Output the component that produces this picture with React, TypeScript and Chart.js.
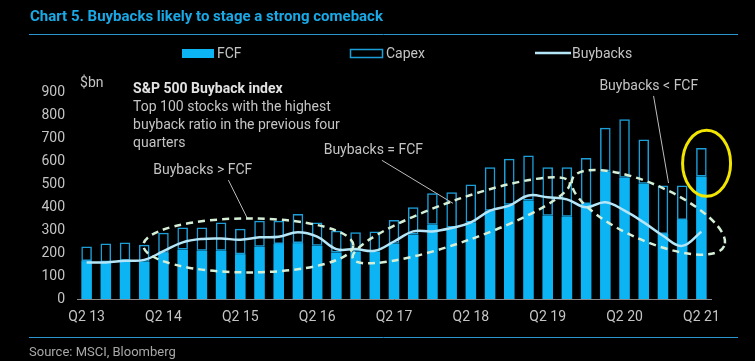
import React, { useEffect, useRef } from "react";
import { Chart, registerables } from "chart.js";

Chart.register(...registerables);

const quarters = [
  "Q2 13", "Q3 13", "Q4 13", "Q1 14",
  "Q2 14", "Q3 14", "Q4 14", "Q1 15",
  "Q2 15", "Q3 15", "Q4 15", "Q1 16",
  "Q2 16", "Q3 16", "Q4 16", "Q1 17",
  "Q2 17", "Q3 17", "Q4 17", "Q1 18",
  "Q2 18", "Q3 18", "Q4 18", "Q1 19",
  "Q2 19", "Q3 19", "Q4 19", "Q1 20",
  "Q2 20", "Q3 20", "Q4 20", "Q1 21",
  "Q2 21",
];

const fcf = [
  165, 160, 166, 162, 200, 215, 210, 210, 195, 227, 239, 243, 231, 202, 205, 205,
  240, 280, 323, 311, 333, 384, 410, 428, 362, 358, 413, 555, 527, 501, 283, 344,
  533,
];

const capex = [
  63, 81, 80, 74, 88, 96, 101, 123, 110, 113, 101, 127, 102, 95, 85, 89,
  104, 119, 137, 153, 165, 189, 200, 196, 211, 215, 200, 190, 255, 193, 210, 149,
  123,
];

const buybacks = [
  159, 159, 166, 170, 208, 246, 261, 263, 258, 268, 271, 290, 271, 217, 217, 210,
  250, 294, 294, 309, 333, 384, 406, 450, 442, 433, 399, 421, 384, 333, 275, 231,
  292,
];

const yMin = 0;
const yMax = 900;
const yStep = 100;

const titleText = "Chart 5. Buybacks likely to stage a strong comeback";
const sourceText = "Source: MSCI, Bloomberg";
const unitText = "$bn";

// annotation texts placed in data coordinates (category index, value)
const notes = [
  { text: "S&P 500 Buyback index", x: 2.42, y: 913, bold: true },
  { text: "Top 100 stocks with the highest", x: 2.42, y: 834, bold: false },
  { text: "buyback ratio in the previous four", x: 2.42, y: 756, bold: false },
  { text: "quarters", x: 2.42, y: 678, bold: false },
  { text: "Buybacks > FCF", x: 3.47, y: 560, bold: false },
  { text: "Buybacks = FCF", x: 12.34, y: 647, bold: false },
  { text: "Buybacks < FCF", x: 26.69, y: 926, bold: false },
];

const leaders = [
  { x1: 7.38, y1: 517, x2: 8.37, y2: 350 },
  { x1: 15.37, y1: 603, x2: 19.07, y2: 416 },
  { x1: 29.51, y1: 883, x2: 30.29, y2: 504 },
];

// ellipses: center in data coords, radii in px, rotation in degrees
const dashedEllipses = [
  { x: 8.42, y: 233, rx: 105, ry: 27, rot: 0 },
  { x: 19.5, y: 342, rx: 115, ry: 21, rot: -19.4 },
  { x: 29.24, y: 377, rx: 83, ry: 28, rot: 24 },
];
const highlight = { x: 32.27, y: 590, rx: 24, ry: 33, rot: 0 };

const CYAN = "#0cb4f4";
const CAPEX_LINE = "#1c9fd9";
const BUY_LINE = "#b4e6f7";
const TEXT = "#c4c4c4";
const FONT = "Roboto, 'Noto Sans', sans-serif";

const decorPlugin = {
  id: "decor",
  beforeDraw(chart: any) {
    const { ctx, width, height } = chart;
    ctx.save();
    ctx.fillStyle = "#000";
    ctx.fillRect(0, 0, width, height);
    ctx.restore();
  },
  afterDraw(chart: any) {
    const { ctx } = chart;
    const xs = chart.scales.x;
    const ys = chart.scales.y;
    const px = (v: number) => xs.getPixelForValue(v);
    const py = (v: number) => ys.getPixelForValue(v);
    ctx.save();

    // title
    ctx.fillStyle = "#19a9e6";
    ctx.font = `bold 15px ${FONT}`;
    ctx.textBaseline = "middle";
    ctx.textAlign = "left";
    ctx.fillText(titleText, 30, 17);
    ctx.strokeStyle = "#2a95cf";
    ctx.lineWidth = 1;
    ctx.beginPath();
    ctx.moveTo(29, 34.5);
    ctx.lineTo(738, 34.5);
    ctx.stroke();
    ctx.beginPath();
    ctx.moveTo(29, 337.5);
    ctx.lineTo(738, 337.5);
    ctx.stroke();

    // source
    ctx.fillStyle = "#a8a8a8";
    ctx.font = `13px ${FONT}`;
    ctx.fillText(sourceText, 29, 353);

    // legend
    ctx.font = `14px ${FONT}`;
    ctx.fillStyle = CYAN;
    ctx.fillRect(182, 49, 32, 9);
    ctx.fillStyle = TEXT;
    ctx.fillText("FCF", 217, 54);
    ctx.strokeStyle = CAPEX_LINE;
    ctx.lineWidth = 1.5;
    ctx.strokeRect(350.5, 49.5, 32, 8);
    ctx.fillText("Capex", 386, 54);
    ctx.strokeStyle = BUY_LINE;
    ctx.lineWidth = 2.5;
    ctx.beginPath();
    ctx.moveTo(535, 53);
    ctx.lineTo(571, 53);
    ctx.stroke();
    ctx.fillStyle = TEXT;
    ctx.fillText("Buybacks", 572, 54);

    // unit
    ctx.fillText(unitText, px(-0.34), py(935));

    // notes
    notes.forEach((n) => {
      ctx.font = `${n.bold ? "bold " : ""}14px ${FONT}`;
      ctx.fillStyle = n.bold ? "#e2e2e2" : TEXT;
      ctx.fillText(n.text, px(n.x), py(n.y));
    });

    // leaders
    ctx.strokeStyle = "#bdbdbd";
    ctx.lineWidth = 1;
    leaders.forEach((l) => {
      ctx.beginPath();
      ctx.moveTo(px(l.x1), py(l.y1));
      ctx.lineTo(px(l.x2), py(l.y2));
      ctx.stroke();
    });

    // dashed ellipses
    ctx.strokeStyle = "#d5eed6";
    ctx.lineWidth = 2.5;
    ctx.setLineDash([7, 5]);
    dashedEllipses.forEach((e) => {
      ctx.beginPath();
      ctx.ellipse(px(e.x), py(e.y), e.rx, e.ry, (e.rot * Math.PI) / 180, 0, Math.PI * 2);
      ctx.stroke();
    });
    ctx.setLineDash([]);

    // highlight
    ctx.strokeStyle = "#f2e600";
    ctx.lineWidth = 3;
    ctx.beginPath();
    ctx.ellipse(px(highlight.x), py(highlight.y), highlight.rx, highlight.ry, 0, 0, Math.PI * 2);
    ctx.stroke();

    ctx.restore();
  },
};

export default function App() {
  const ref = useRef<HTMLCanvasElement | null>(null);

  useEffect(() => {
    document.body.style.margin = "0";
    document.body.style.background = "#000";
    const canvas = ref.current;
    if (!canvas) return;
    const chart = new Chart(canvas, {
      type: "bar",
      data: {
        labels: quarters,
        datasets: [
          {
            type: "line",
            label: "Buybacks",
            data: buybacks,
            borderColor: BUY_LINE,
            borderWidth: 2.5,
            pointRadius: 0,
            tension: 0.4,
            fill: false,
            stack: "line",
            order: 0,
          } as any,
          {
            label: "FCF",
            data: fcf,
            backgroundColor: CYAN,
            borderWidth: 0,
            stack: "bars",
            order: 1,
          },
          {
            label: "Capex",
            data: capex,
            backgroundColor: "rgba(0,0,0,0)",
            borderColor: CAPEX_LINE,
            borderWidth: 1.5,
            borderSkipped: false,
            stack: "bars",
            order: 1,
          },
        ],
      },
      options: {
        responsive: false,
        animation: false,
        events: [],
        layout: { padding: { left: 0, right: 44, top: 92, bottom: 0 } },
        plugins: {
          legend: { display: false },
          tooltip: { enabled: false },
          title: { display: false },
        },
        datasets: {
          bar: { barPercentage: 0.55, categoryPercentage: 1 },
        },
        scales: {
          x: {
            stacked: true,
            grid: { display: false, drawTicks: false },
            border: { display: true, color: "#8a8a8a", width: 1 },
            ticks: {
              autoSkip: false,
              maxRotation: 0,
              minRotation: 0,
              padding: 10,
              color: TEXT,
              font: { family: FONT, size: 14 },
              callback: (_v: any, i: number) => (i % 4 === 0 ? quarters[i] : ""),
            },
            afterFit: (s: any) => {
              s.height = 62;
            },
          },
          y: {
            stacked: true,
            min: yMin,
            max: yMax,
            grid: { display: false, drawTicks: false },
            border: { display: false },
            ticks: {
              stepSize: yStep,
              padding: 12,
              color: TEXT,
              font: { family: FONT, size: 14 },
            },
            afterFit: (s: any) => {
              s.width = 77;
            },
          },
        },
      },
      plugins: [decorPlugin],
    });
    return () => chart.destroy();
  }, []);

  return (
    <div style={{ width: 755, height: 361, background: "#000" }}>
      <canvas ref={ref} width={755} height={361} style={{ display: "block" }} />
    </div>
  );
}
